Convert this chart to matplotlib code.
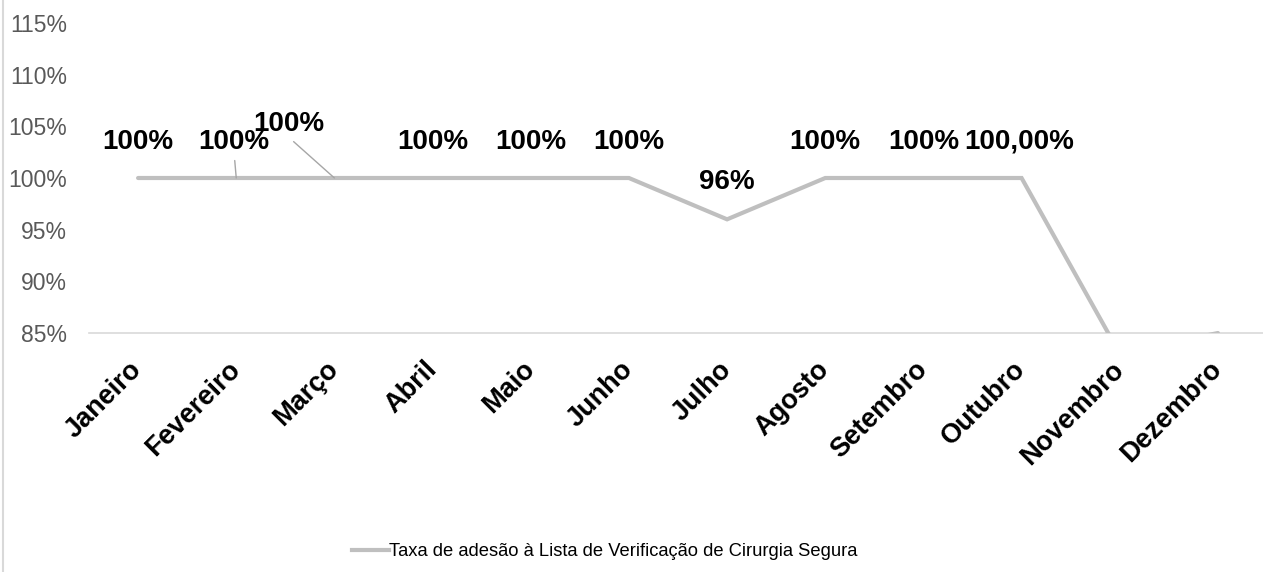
import matplotlib
matplotlib.use("Agg")
import matplotlib.pyplot as plt
import matplotlib.transforms as mtransforms
from matplotlib.lines import Line2D
from matplotlib.ticker import FuncFormatter

plt.rcParams['font.family'] = ['Liberation Sans', 'DejaVu Sans']

months = ["Janeiro", "Fevereiro", "Março", "Abril", "Maio", "Junho", "Julho",
          "Agosto", "Setembro", "Outubro", "Novembro", "Dezembro"]
values = [100, 100, 100, 100, 100, 100, 96, 100, 100, 100, 83, 85]
labels = ["100%", "100%", "100%", "100%", "100%", "100%", "96%",
          "100%", "100%", "100,00%", None, None]
series_name = "Taxa de adesão à Lista de Verificação de Cirurgia Segura"
y_ticks = [85, 90, 95, 100, 105, 110, 115]

W, H = 1263, 572
fig = plt.figure(figsize=(W / 100, H / 100), dpi=100)
ax = fig.add_axes([89 / W, 1 - 333 / H, 1178 / W, 310 / H])

x = list(range(len(months)))
line_color = "#BFBFBF"
ax.plot(x, values, color=line_color, lw=3.0, solid_capstyle="round",
        solid_joinstyle="miter", label=series_name, zorder=3)

ax.set_xlim(-0.5, len(months) - 0.5)
ax.set_ylim(85, 115)
ax.set_yticks(y_ticks)
ax.yaxis.set_major_formatter(FuncFormatter(lambda v, p: f"{v:.0f}%"))
ax.tick_params(axis="y", length=0, pad=16, labelsize=16.5, labelcolor="#595959")
ax.set_xticks(x)
ax.set_xticklabels(months, rotation=45, ha="right", rotation_mode="anchor",
                   fontweight="bold", fontsize=19.5)
ax.tick_params(axis="x", length=0, pad=17)
shift = mtransforms.ScaledTranslation(-9 / 100, 0, fig.dpi_scale_trans)
for lab in ax.get_xticklabels():
    lab.set_transform(lab.get_transform() + shift)

for s in ["top", "right", "left"]:
    ax.spines[s].set_visible(False)
ax.spines["bottom"].set_color("#D9D9D9")
ax.spines["bottom"].set_linewidth(1.2)

# label offsets in pixels (dx, dy)
offsets = {1: (-2, 36), 2: (-46, 54), 6: (0, 37), 9: (-2, 36)}
leaders = {1, 2}
for i, (v, t) in enumerate(zip(values, labels)):
    if t is None:
        continue
    dx, dy = offsets.get(i, (0, 36))
    kw = {}
    if i in leaders:
        kw["arrowprops"] = dict(arrowstyle="-", color="#A6A6A6", lw=1.0,
                                shrinkA=2, shrinkB=0, relpos=(0.5, 0.0))
    ax.annotate(t, xy=(i, v), xytext=(dx, dy), textcoords="offset pixels",
                ha="center", va="center", fontsize=20, fontweight="bold",
                color="black", zorder=5, **kw)

# left border line of chart area
fig.add_artist(Line2D([3 / W, 3 / W], [0, 1], color="#D9D9D9", lw=1.5,
                      transform=fig.transFigure))

leg = fig.legend(handles=[Line2D([0], [0], color=line_color, lw=3.0)],
                 labels=[series_name], loc="center",
                 bbox_to_anchor=(605 / W, 1 - 552 / H), frameon=False,
                 fontsize=13.2, handlelength=2.0, handletextpad=0.0)
for t in leg.get_texts():
    t.set_color("black")

fig.savefig("out.png", dpi=100)
